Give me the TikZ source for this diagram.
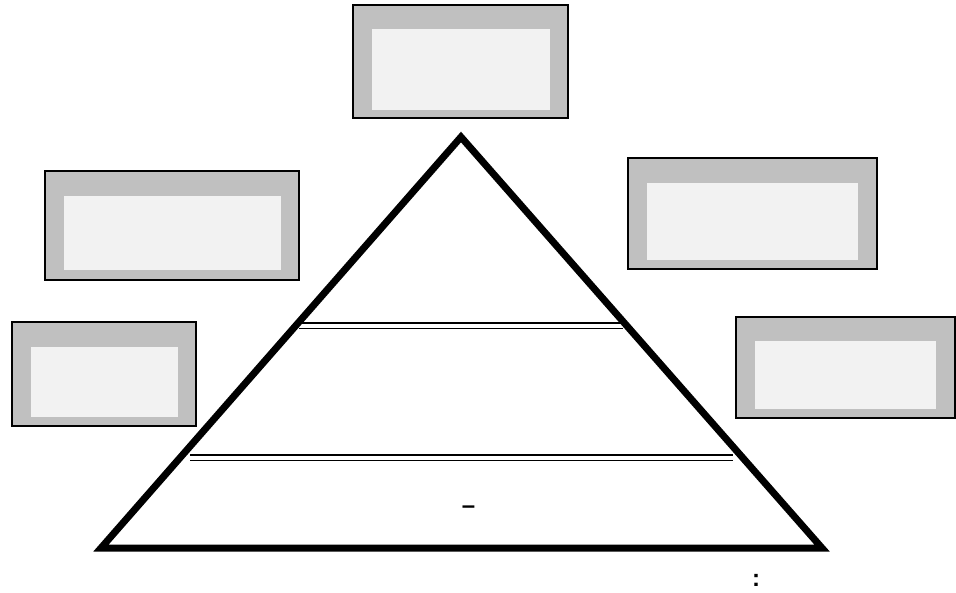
\documentclass[tikz,border=0pt]{standalone}
\usepackage{fontspec}
\setmainfont{Liberation Sans}
\definecolor{boxgray}{HTML}{C0C0C0}
\definecolor{innergray}{HTML}{F2F2F2}
\begin{document}
\begin{tikzpicture}[x=1pt,y=-1pt,
  outerbox/.style={fill=boxgray,draw=black,line width=1.6pt},
  innerbox/.style={fill=innergray,draw=none},
  pyr/.style={draw=black,line width=7pt,line join=miter},
  sep/.style={draw=black,line width=1.8pt},
  lbl/.style={inner sep=0pt,anchor=base,font=\fontsize{24}{26}\selectfont\bfseries}]
\useasboundingbox (0,0) rectangle (956,592);
% boxes
\path[outerbox] (353,5) rectangle (568,118);
\path[innerbox] (372,29) rectangle (550,110);
\path[outerbox] (45,171) rectangle (299,280);
\path[innerbox] (64,196) rectangle (281,270);
\path[outerbox] (628,158) rectangle (877,269);
\path[innerbox] (647,183) rectangle (858,260);
\path[outerbox] (12,322) rectangle (196,426);
\path[innerbox] (31,347) rectangle (178,417);
\path[outerbox] (736,317) rectangle (955,418);
\path[innerbox] (755,341) rectangle (936,409);
% pyramid
\coordinate (apex) at (461,137);
\coordinate (bl) at (101,548);
\coordinate (br) at (822,548);
\draw[pyr] (apex) -- (bl) -- (br) -- cycle;
% separators
\coordinate (s1a) at (299,323); \coordinate (s1b) at (623,323);
\coordinate (s1c) at (299,328.5); \coordinate (s1d) at (623,328.5);
\draw[sep] (s1a) -- (s1b);
\draw[sep] (s1c) -- (s1d);
\coordinate (s2a) at (190,455); \coordinate (s2b) at (733,455);
\coordinate (s2c) at (190,460.5); \coordinate (s2d) at (733,460.5);
\draw[sep] (s2a) -- (s2b);
\draw[sep] (s2c) -- (s2d);
% texts
\node[lbl] (dash) at (468.5,513) {–};
\node[lbl] (colon) at (756,586) {:};
\end{tikzpicture}
\end{document}
